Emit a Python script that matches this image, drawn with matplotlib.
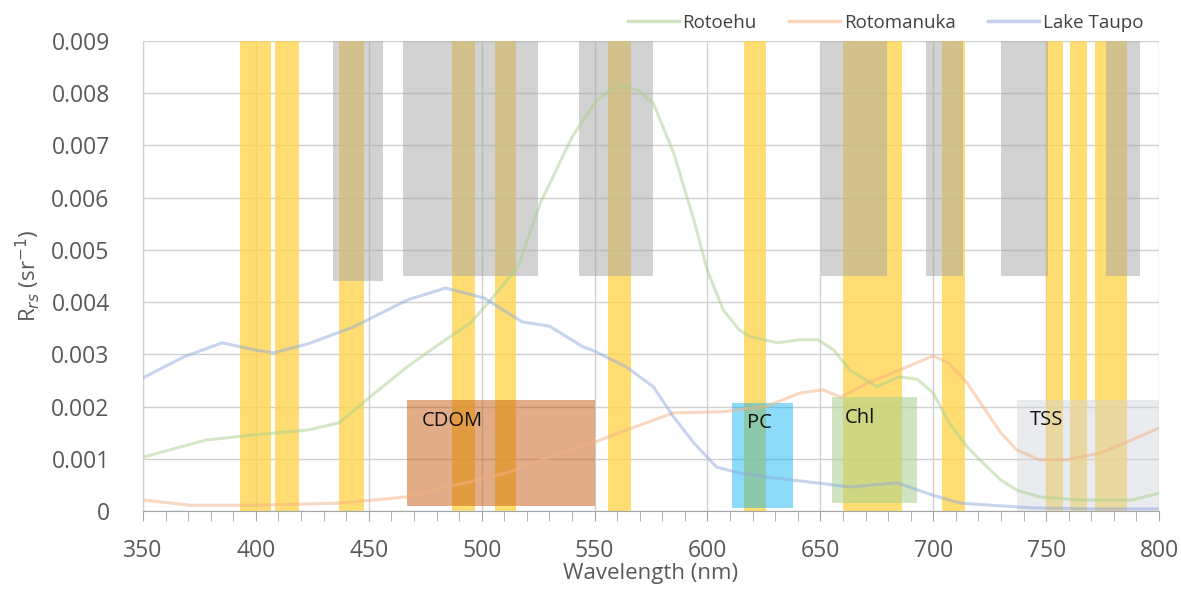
import matplotlib
matplotlib.use('Agg')
import matplotlib.pyplot as plt
from matplotlib.lines import Line2D

# spectra (wavelength in nm, Rrs in sr^-1)
wl_rotoehu = [350, 378, 400, 423, 437, 449, 467, 482, 495, 504, 516, 526, 540, 551, 561, 569,
              576, 585, 594, 600, 607, 614, 619, 631, 641, 649, 656, 663, 675, 685, 693, 700,
              707, 715, 722, 730, 737, 747, 766, 788, 800]
rrs_rotoehu = [0.00103, 0.00136, 0.00146, 0.00155, 0.00169, 0.00213, 0.00276, 0.00322, 0.00360,
               0.00404, 0.00467, 0.00590, 0.00716, 0.00787, 0.00816, 0.00806, 0.00781, 0.00686,
               0.00557, 0.00460, 0.00385, 0.00347, 0.00334, 0.00322, 0.00328, 0.00328, 0.00308,
               0.00270, 0.00238, 0.00257, 0.00252, 0.00226, 0.00169, 0.00123, 0.00092, 0.00059,
               0.00040, 0.00027, 0.00021, 0.00021, 0.00034]

wl_rotomanuka = [350, 371, 400, 437, 467, 482, 495, 511, 530, 549, 564, 585, 607, 626, 641, 651,
                 659, 671, 685, 700, 707, 715, 722, 730, 737, 747, 759, 774, 788, 800]
rrs_rotomanuka = [0.00021, 0.00011, 0.00011, 0.00015, 0.00027, 0.00044, 0.00056, 0.00073, 0.00103,
                  0.00130, 0.00155, 0.00188, 0.00190, 0.00200, 0.00226, 0.00232, 0.00218, 0.00245,
                  0.00270, 0.00297, 0.00283, 0.00245, 0.00200, 0.00149, 0.00117, 0.00098, 0.00098,
                  0.00111, 0.00136, 0.00159]

wl_taupo = [350, 368, 385, 400, 408, 423, 443, 467, 484, 501, 518, 530, 545, 549, 564, 576, 585,
            594, 604, 614, 626, 648, 663, 684, 700, 712, 722, 744, 770, 800]
rrs_taupo = [0.00255, 0.00295, 0.00322, 0.00308, 0.00303, 0.00320, 0.00352, 0.00404, 0.00427,
             0.00408, 0.00362, 0.00354, 0.00314, 0.00308, 0.00276, 0.00238, 0.00180, 0.00130,
             0.00084, 0.00073, 0.00065, 0.00054, 0.00046, 0.00054, 0.00030, 0.00015, 0.00012,
             0.00006, 0.00004, 0.00004]

# OLCI-type bands (yellow) and MSI-type bands (grey)
olci_lo = [393, 408.5, 437, 487, 506, 556, 616, 660, 670, 678, 704, 750, 760.5, 771.5]
olci_hi = [406.5, 419, 448, 497, 515, 566, 626, 670, 678, 686, 714, 757.5, 768, 786]
msi_lo = [434, 465, 543, 650.5, 697, 730, 776.5]
msi_hi = [456.5, 525, 576, 679.5, 713, 751, 791.5]
msi_bottom = [0.0044, 0.0045, 0.0045, 0.0045, 0.0045, 0.0045, 0.0045]

# constituent windows
box_names = ['CDOM', 'PC', 'Chl', 'TSS']
box_lo = [467, 611, 655, 737]
box_hi = [550, 638, 693, 800]
box_bottom = [0.0001, 0.00006, 0.00015, 0.0]
box_top = [0.00213, 0.00207, 0.00218, 0.00213]
box_label_x = [473.5, 617.5, 661, 743]
box_label_y = [0.00163, 0.00159, 0.00169, 0.00165]
box_colors = ['#C55A11', '#00B0F0', '#A9D18E', '#D0D4DA']
box_alpha = [0.5, 0.45, 0.55, 0.45]

fig = plt.figure(figsize=(11.81, 5.91), dpi=100)
ax = fig.add_axes([0.1211, 0.1354, 0.8603, 0.7952])

for lo, hi in zip(olci_lo, olci_hi):
    ax.axvspan(lo, hi, ymin=0, ymax=1, color='#FFD54F', alpha=0.8, lw=0, zorder=1)
for lo, hi, b in zip(msi_lo, msi_hi, msi_bottom):
    ax.fill_between([lo, hi], b, 0.009, color='#A6A6A6', alpha=0.5, lw=0, zorder=2)
for lo, hi, b, t, c, a in zip(box_lo, box_hi, box_bottom, box_top, box_colors, box_alpha):
    ax.fill_between([lo, hi], b, t, color=c, alpha=a, lw=0, zorder=3)
for name, x, y in zip(box_names, box_label_x, box_label_y):
    ax.text(x, y, name, fontsize=14.5, color='#111111', family='Open Sans', zorder=6)

ax.plot(wl_rotoehu, rrs_rotoehu, color='#A9D18E', lw=2.2, alpha=0.5, zorder=4)
ax.plot(wl_rotomanuka, rrs_rotomanuka, color='#F4B183', lw=2.2, alpha=0.5, zorder=4)
ax.plot(wl_taupo, rrs_taupo, color='#8FAADC', lw=2.2, alpha=0.5, zorder=4)

ax.set_xlim(350, 800)
ax.set_ylim(0, 0.009)
ax.set_xticks(range(350, 801, 50))
ax.set_xticks(range(350, 801, 10), minor=True)
ax.set_yticks([i / 1000 for i in range(10)])
ax.set_yticklabels(['0'] + ['%.3f' % (i / 1000) for i in range(1, 10)])
ax.grid(True, which='major', color='#D0D0D0', lw=1)
ax.set_axisbelow(True)
for s in ['top', 'right']:
    ax.spines[s].set_visible(False)
ax.spines['left'].set_color('#D0D0D0')
ax.spines['bottom'].set_color('#A6A6A6')
ax.tick_params(axis='x', which='both', direction='out', length=7, color='#A6A6A6',
               labelsize=16.5, labelcolor='#595959', pad=13)
ax.tick_params(axis='y', length=0, labelsize=16.5, labelcolor='#595959', pad=24)
for lab in ax.get_xticklabels() + ax.get_yticklabels():
    lab.set_family('Open Sans')

ax.set_xlabel('Wavelength (nm)', fontsize=16, color='#595959', family='Open Sans', labelpad=0)
ax.set_ylabel('R$_{rs}$ (sr$^{-1}$)', fontsize=16, color='#595959', family='Open Sans', labelpad=7)

handles = [Line2D([], [], color='#A9D18E', lw=2.5, alpha=0.55),
           Line2D([], [], color='#F4B183', lw=2.5, alpha=0.55),
           Line2D([], [], color='#8FAADC', lw=2.5, alpha=0.55)]
fig.legend(handles, ['Rotoehu', 'Rotomanuka', 'Lake Taupo'], loc='center right',
           bbox_to_anchor=(0.968, 0.961), ncol=3, frameon=False,
           handlelength=2.7, columnspacing=1.75, handletextpad=0.2,
           borderpad=0, borderaxespad=0,
           labelcolor='#404040', prop={'family': 'Open Sans', 'size': 13.5})

fig.savefig('out.png', dpi=100)
